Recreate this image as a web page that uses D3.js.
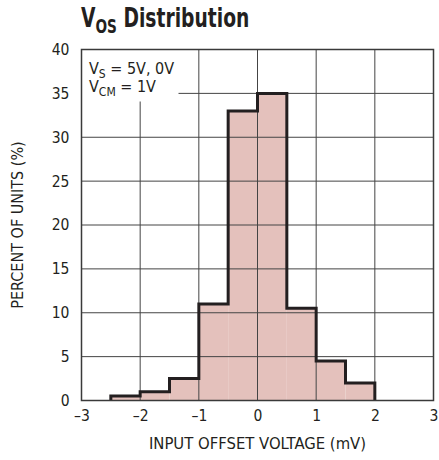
<!DOCTYPE html>
<html>
<head>
<meta charset="utf-8">
<script src="https://cdn.jsdelivr.net/npm/d3@7"></script>
<style>
  body { margin: 0; background: #fff; }
  svg text { font-family: "Liberation Sans Narrow", "DejaVu Sans Condensed", "Liberation Sans", sans-serif; fill: #231f20; }
</style>
</head>
<body>
<svg id="chart" width="439" height="460"></svg>
<script>
// histogram bins (mV) and percent of units
const binStarts = [-2.5, -2, -1.5, -1, -0.5, 0, 0.5, 1, 1.5]
const binWidth = 0.5
const percents = [0.5, 1, 2.5, 11, 33, 35, 10.5, 4.5, 2]
const xTicks = [-3, -2, -1, 0, 1, 2, 3]
const yTicks = [0, 5, 10, 15, 20, 25, 30, 35, 40]

const svg = d3.select('#chart')
const x = d3.scaleLinear().domain([-3, 3]).range([81.5, 433.5])
const y = d3.scaleLinear().domain([0, 40]).range([400.5, 49.5])

// bars fill
svg.append('g')
    .selectAll('rect')
    .data(binStarts)
    .join('rect')
    .attr('x', (d) => x(d))
    .attr('width', (d) => x(d + binWidth) - x(d))
    .attr('y', (d, i) => y(percents[i]))
    .attr('height', (d, i) => y(0) - y(percents[i]))
    .attr('fill', '#e4c1bc')

// grid
const grid = svg.append('g').attr('stroke', '#444').attr('stroke-width', 1)
grid.selectAll('.gx')
    .data(xTicks.slice(1, -1))
    .join('line')
    .attr('x1', d => x(d)).attr('x2', d => x(d))
    .attr('y1', y(40)).attr('y2', y(0))
grid.selectAll('.gy')
    .data(yTicks.slice(1, -1))
    .join('line')
    .attr('x1', x(-3)).attr('x2', x(3))
    .attr('y1', d => y(d)).attr('y2', d => y(d))

// legend box hides grid in the corner
svg.append('rect')
    .attr('x', x(-3)).attr('y', y(40))
    .attr('width', 97).attr('height', 52)
    .attr('fill', '#fff')

// outline of the histogram
const outline = [[x(binStarts[0]), y(0)]]
binStarts.forEach((d, i) => {
    outline.push([x(d), y(percents[i])])
    outline.push([x(d + binWidth), y(percents[i])])
})
outline.push([x(binStarts[binStarts.length - 1] + binWidth), y(0)])
svg.append('path')
    .attr('d', d3.line()(outline))
    .attr('fill', 'none')
    .attr('stroke', '#231f20')
    .attr('stroke-width', 3)
    .attr('stroke-linejoin', 'miter')

// frame
svg.append('rect')
    .attr('x', x(-3)).attr('y', y(40))
    .attr('width', x(3) - x(-3)).attr('height', y(0) - y(40))
    .attr('fill', 'none')
    .attr('stroke', '#3a3a3a')
    .attr('stroke-width', 1.5)

// axes (labels only)
const xAxis = svg.append('g')
    .attr('transform', `translate(0,${y(0)})`)
    .call(d3.axisBottom(x).tickValues(xTicks).tickSize(0).tickPadding(9)
        .tickFormat(d => d < 0 ? '\u2013' + Math.abs(d) : d))
xAxis.select('.domain').remove()
xAxis.selectAll('text').attr('font-size', 15.5).style('font-family', null)

const yAxis = svg.append('g')
    .attr('transform', `translate(${x(-3)},0)`)
    .call(d3.axisLeft(y).tickValues(yTicks).tickSize(0).tickPadding(12))
yAxis.select('.domain').remove()
yAxis.selectAll('text').attr('font-size', 15.5).style('font-family', null)

// title, squeezed to look like a condensed face
const title = svg.append('text')
    .attr('transform', 'translate(81,27) scale(0.8,1)')
    .attr('font-size', 26).attr('font-weight', 'bold')
title.append('tspan').text('V')
title.append('tspan').attr('font-size', 19).attr('dy', 6).text('OS')
title.append('tspan').attr('dy', -6).text(' Distribution')

// conditions
const t1 = svg.append('text').attr('x', 89).attr('y', 74).attr('font-size', 16)
t1.append('tspan').text('V')
t1.append('tspan').attr('font-size', 12).attr('dy', 4).text('S')
t1.append('tspan').attr('dy', -4).text(' = 5V, 0V')
const t2 = svg.append('text').attr('x', 89).attr('y', 92).attr('font-size', 16)
t2.append('tspan').text('V')
t2.append('tspan').attr('font-size', 12).attr('dy', 4).text('CM')
t2.append('tspan').attr('dy', -4).text(' = 1V')

// axis titles
svg.append('text')
    .attr('x', (x(-3) + x(3)) / 2).attr('y', 449)
    .attr('text-anchor', 'middle').attr('font-size', 16.5)
    .text('INPUT OFFSET VOLTAGE (mV)')
svg.append('text')
    .attr('transform', `translate(23,${(y(0) + y(40)) / 2}) rotate(-90)`)
    .attr('text-anchor', 'middle').attr('font-size', 16)
    .text('PERCENT OF UNITS (%)')
</script>
</body>
</html>
